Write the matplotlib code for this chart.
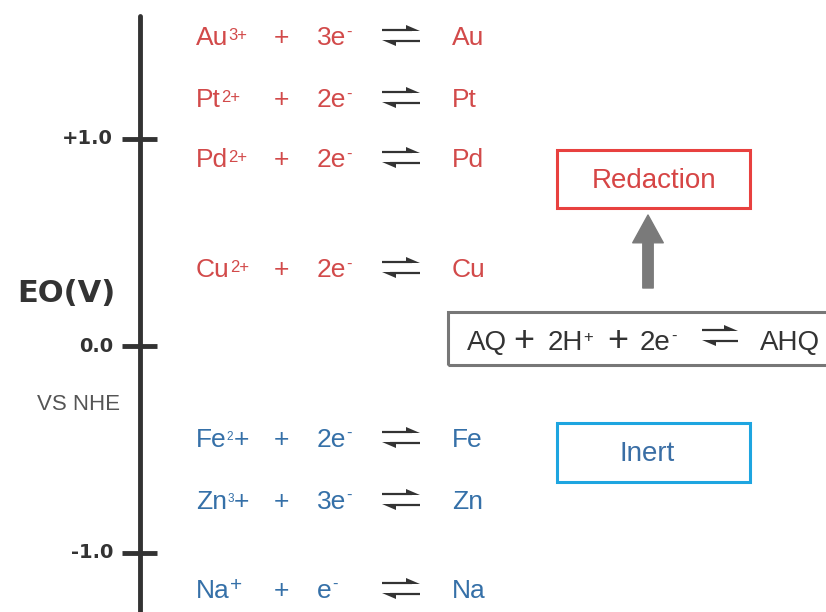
import matplotlib
matplotlib.use("Agg")
import matplotlib.pyplot as plt
from matplotlib.patches import Rectangle

plt.rcParams["font.family"] = ["Liberation Sans", "DejaVu Sans"]

# standard potentials (as drawn on the scale), volts vs NHE
ions = ["Au", "Pt", "Pd", "Cu", "Fe", "Zn", "Na"]
charges = ["3+", "2+", "2+", "2+", "2+", "3+", "+"]
electrons = ["3e", "2e", "2e", "2e", "2e", "3e", "e"]
products = ["Au", "Pt", "Pd", "Cu", "Fe", "Zn", "Na"]
potentials = [1.50, 1.20, 0.91, 0.38, -0.44, -0.74, -1.17]
reducible = [True, True, True, True, False, False, False]

tick_values = [1.0, 0.0, -1.0]
tick_labels = ["+1.0", "0.0", "-1.0"]

aq_potential = 0.03

RED = "#d24a4a"
BLUE = "#3570a8"
DARK = "#333333"
PX = 1 / 207.0  # volts per pixel on the drawn scale

fig = plt.figure(figsize=(8.26, 6.12), dpi=100)
ax = fig.add_axes([0, 0, 1, 1])
ax.set_xlim(0, 826)
ax.set_ylim((346 - 612) * PX, 346 * PX)
ax.axis("off")

# potential scale
ax.plot([140, 140], [(346 - 16) * PX, (346 - 640) * PX],
        color=DARK, lw=3.5, solid_capstyle="round")
ax.hlines(tick_values, 122, 157, color=DARK, lw=3.5)
for v, lab in zip(tick_values, tick_labels):
    ax.text(113, v, lab, ha="right", va="center", fontsize=14,
            fontweight="bold", family="DejaVu Sans", color=DARK)

ax.text(66, (346 - 293) * PX, "EO(V)", ha="center", va="center",
        fontsize=22, fontweight="bold", family="DejaVu Sans", color=DARK)
ax.text(120, (346 - 405) * PX, "VS NHE", ha="right", va="center",
        fontsize=16, color="#555555")


def chem(x, v, pieces, color, drop):
    # pieces: (text, fontsize, rise in points), chained left to right
    prev = None
    for txt, size, rise in pieces:
        if prev is None:
            prev = ax.annotate(txt, xy=(x, v), xytext=(0, rise - drop),
                               textcoords="offset points", fontsize=size,
                               color=color, ha="left", va="baseline")
        else:
            prev = ax.annotate(txt, xy=(1, v), xycoords=(prev, "data"),
                               xytext=(0.2, rise - drop),
                               textcoords="offset points", fontsize=size,
                               color=color, ha="left", va="baseline")
    return prev


def harpoons(x0, x1, v, color=DARK):
    top = v + 5.5 * PX
    bot = v - 5.5 * PX
    ax.plot([x0, x1 - 8], [top, top], color=color, lw=1.6,
            solid_capstyle="butt")
    ax.fill([x1, x1 - 14, x1 - 14], [top - 1 * PX, top - 1 * PX, top + 5 * PX],
            color=color, lw=0)
    ax.plot([x0 + 8, x1], [bot, bot], color=color, lw=1.6,
            solid_capstyle="butt")
    ax.fill([x0, x0 + 14, x0 + 14], [bot + 1 * PX, bot + 1 * PX, bot - 5 * PX],
            color=color, lw=0)


SIZE = 19
DROP = 0.716 * SIZE / 2

for ion, chg, el, prod, v, red in zip(ions, charges, electrons,
                                      products, potentials, reducible):
    color = RED if red else BLUE
    if red:
        ion_pieces = [(ion, SIZE, 0), (chg, 12, 3.6)]
    elif chg[0].isdigit():
        ion_pieces = [(ion, SIZE, 0), (chg[:-1], 8.5, 4.8), ("+", SIZE, 0)]
    else:
        ion_pieces = [(ion, SIZE, 0), ("+", 15, 4.8)]
    chem(196, v, ion_pieces, color, DROP)
    chem(281, v, [("+", SIZE, 0)], color, DROP).set_ha("center")
    chem(317, v, [(el, SIZE, 0), ("-", 12, 6.0)], color, DROP)
    harpoons(382, 420, v)
    chem(452, v, [(prod, SIZE, 0)], color, DROP)

# AQ / AHQ couple
ax.add_patch(Rectangle((448, (346 - 365) * PX), 390, 53 * PX,
                       fill=False, ec="#777777", lw=2.2))
AQS = 20
aq_drop = 0.716 * AQS / 2
chem(467, aq_potential, [("AQ", AQS, 0)], DARK, aq_drop)
chem(524, aq_potential, [("+", 26, -1)], DARK, aq_drop).set_ha("center")
chem(548, aq_potential, [("2H", AQS, 0), ("+", 12, 5.8)], DARK, aq_drop)
chem(618, aq_potential, [("+", 26, -1)], DARK, aq_drop).set_ha("center")
chem(640, aq_potential, [("2e", AQS, 0), ("-", 12, 6.5)], DARK, aq_drop)
harpoons(702, 738, aq_potential + 4 * PX)
chem(760, aq_potential, [("AHQ", AQS, 0)], DARK, aq_drop)

# redaction / inert boxes
ax.add_patch(Rectangle((557, (346 - 208) * PX), 193, 58 * PX,
                       fill=False, ec="#e8413f", lw=2.2))
ax.text(654, (346 - 181) * PX, "Redaction", ha="center", va="center",
        fontsize=20, color="#d64545")
ax.add_patch(Rectangle((557, (346 - 482) * PX), 193, 59 * PX,
                       fill=False, ec="#1ea5e0", lw=2.2))
ax.text(647, (346 - 454) * PX, "Inert", ha="center", va="center",
        fontsize=20, color="#3a6ea5")

ax.annotate("", xy=(648, (346 - 215) * PX), xytext=(648, (346 - 288) * PX),
            arrowprops=dict(arrowstyle="simple,head_width=22,head_length=20,tail_width=7.5",
                            mutation_scale=1, color="#7a7a7a",
                            shrinkA=0, shrinkB=0))

plt.savefig("out.png", dpi=100)
